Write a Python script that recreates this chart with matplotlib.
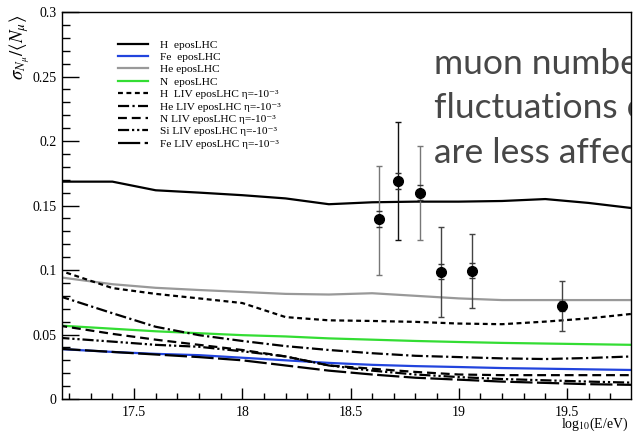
import numpy as np
import matplotlib
matplotlib.use("Agg")
import matplotlib.pyplot as plt
from matplotlib.ticker import MultipleLocator

plt.rcParams['font.family'] = ['Liberation Serif', 'DejaVu Serif']
plt.rcParams['mathtext.fontset'] = 'stix'

# simulation curves, sampled on a common energy grid
log_e = [17.15, 17.4, 17.6, 17.8, 18.0, 18.2, 18.4, 18.6, 18.8, 19.0, 19.2, 19.4, 19.6, 19.8]
h_epos = [0.1685, 0.1685, 0.1618, 0.160, 0.158, 0.1555, 0.151, 0.1525, 0.153, 0.153, 0.1535, 0.155, 0.152, 0.148]
fe_epos = [0.0388, 0.0365, 0.035, 0.034, 0.032, 0.030, 0.028, 0.0265, 0.0255, 0.0248, 0.024, 0.0235, 0.023, 0.0225]
he_epos = [0.0945, 0.089, 0.0862, 0.0845, 0.083, 0.0815, 0.081, 0.082, 0.080, 0.078, 0.0767, 0.0767, 0.0767, 0.0767]
n_epos = [0.057, 0.0545, 0.0525, 0.051, 0.0495, 0.0485, 0.047, 0.046, 0.045, 0.0442, 0.0435, 0.043, 0.0425, 0.042]
h_liv = [0.100, 0.086, 0.0815, 0.078, 0.0744, 0.0635, 0.061, 0.0605, 0.0598, 0.0585, 0.058, 0.060, 0.0625, 0.066]
he_liv = [0.080, 0.0665, 0.056, 0.0495, 0.045, 0.041, 0.038, 0.0355, 0.0335, 0.0325, 0.0315, 0.031, 0.0318, 0.033]
n_liv = [0.057, 0.0505, 0.046, 0.042, 0.038, 0.033, 0.026, 0.0235, 0.021, 0.019, 0.0185, 0.0185, 0.0185, 0.0185]
si_liv = [0.0475, 0.0445, 0.042, 0.0405, 0.037, 0.033, 0.026, 0.022, 0.019, 0.017, 0.0155, 0.0145, 0.0135, 0.0127]
fe_liv = [0.039, 0.0365, 0.0345, 0.0325, 0.030, 0.026, 0.022, 0.019, 0.0165, 0.015, 0.0135, 0.0125, 0.0115, 0.011]

# measured points
data_x = [18.63, 18.72, 18.82, 18.92, 19.06, 19.475]
data_y = [0.1395, 0.169, 0.160, 0.0987, 0.0995, 0.072]
err_lo = [0.0435, 0.046, 0.037, 0.035, 0.0287, 0.0193]
err_hi = [0.0415, 0.0457, 0.036, 0.0349, 0.0285, 0.0197]
err_sys = [0.006, 0.006, 0.006, 0.006, 0.006, 0.004]
err_col = ["#777777", "#111111", "#777777", "#444444", "#444444", "#444444"]

legend_labels = [
    "H  eposLHC", "Fe  eposLHC", "He eposLHC", "N  eposLHC",
    "H  LIV eposLHC \u03b7=-10\u207b\u00b3", "He LIV eposLHC \u03b7=-10\u207b\u00b3",
    "N LIV eposLHC \u03b7=-10\u207b\u00b3", "Si LIV eposLHC \u03b7=-10\u207b\u00b3",
    "Fe LIV eposLHC \u03b7=-10\u207b\u00b3",
]

fig = plt.figure(figsize=(6.34, 4.38), dpi=100, facecolor="white")
ax = fig.add_axes([0.0978, 0.089, 0.8975, 0.8836])

curves = [h_epos, fe_epos, he_epos, n_epos, h_liv, he_liv, n_liv, si_liv, fe_liv]
colors = ["black", "#2244dd", "#999999", "#33dd33", "black", "black", "black", "black", "black"]
styles = ["-", "-", "-", "-", (0, (2.2, 1.6)), (0, (5, 1.5, 1, 1.5)), (0, (4, 2.2)),
          (0, (5, 1.3, 1, 1.3, 1, 1.3)), (0, (10, 2))]
for yv, c, ls, lab in zip(curves, colors, styles, legend_labels):
    ax.plot(log_e, yv, color=c, linestyle=ls, linewidth=1.6, label=lab)

for i in range(len(data_x)):
    ax.errorbar(data_x[i], data_y[i], yerr=[[err_lo[i]], [err_hi[i]]], fmt="none",
                ecolor=err_col[i], elinewidth=1.0, capsize=2, capthick=1.0)
    ax.errorbar(data_x[i], data_y[i], yerr=err_sys[i], fmt="none",
                ecolor="#333333", elinewidth=0, capsize=2.5, capthick=1.0)
ax.plot(data_x, data_y, "o", color="black", markersize=7, zorder=5)

ax.set_xlim(17.167, 19.796)
ax.set_ylim(0, 0.3)
ax.xaxis.set_minor_locator(MultipleLocator(0.1))
ax.yaxis.set_minor_locator(MultipleLocator(0.01))
ax.set_xticks([17.5, 18, 18.5, 19, 19.5])
ax.set_xticklabels(["17.5", "18", "18.5", "19", "19.5"])
ax.set_yticks([0, 0.05, 0.1, 0.15, 0.2, 0.25, 0.3])
ax.set_yticklabels(["0", "0.05", "0.1", "0.15", "0.2", "0.25", "0.3"])
ax.tick_params(axis="x", which="major", direction="in", length=8, width=1, labelsize=10, pad=5)
ax.tick_params(axis="x", which="minor", direction="in", length=4, width=1)
ax.tick_params(axis="y", which="major", direction="in", length=12, width=1, labelsize=10, pad=4)
ax.tick_params(axis="y", which="minor", direction="in", length=6, width=1)
for sp in ax.spines.values():
    sp.set_linewidth(1.0)

leg = ax.legend(loc="upper left", bbox_to_anchor=(0.0905, 0.94), frameon=False,
                fontsize=8.2, handlelength=2.6, handletextpad=1.1, labelspacing=0.21,
                borderaxespad=0)

fig.text(0.031, 0.966, r"$\sigma_{N_\mu}/\langle N_\mu\rangle$", rotation=90,
         ha="center", va="top", fontsize=13.5)
fig.text(0.991, 0.023, r"log$_{10}$(E/eV)", ha="right", va="baseline", fontsize=10)

ax.text(0.653, 0.907, "muon number\nfluctuations of\nare less affected",
        transform=ax.transAxes, ha="left", va="top", fontsize=25.5, color="#474747",
        family=["Lato", "DejaVu Sans"], linespacing=1.48, clip_on=True, zorder=6)

fig.savefig("out.png", dpi=100, facecolor="white")
